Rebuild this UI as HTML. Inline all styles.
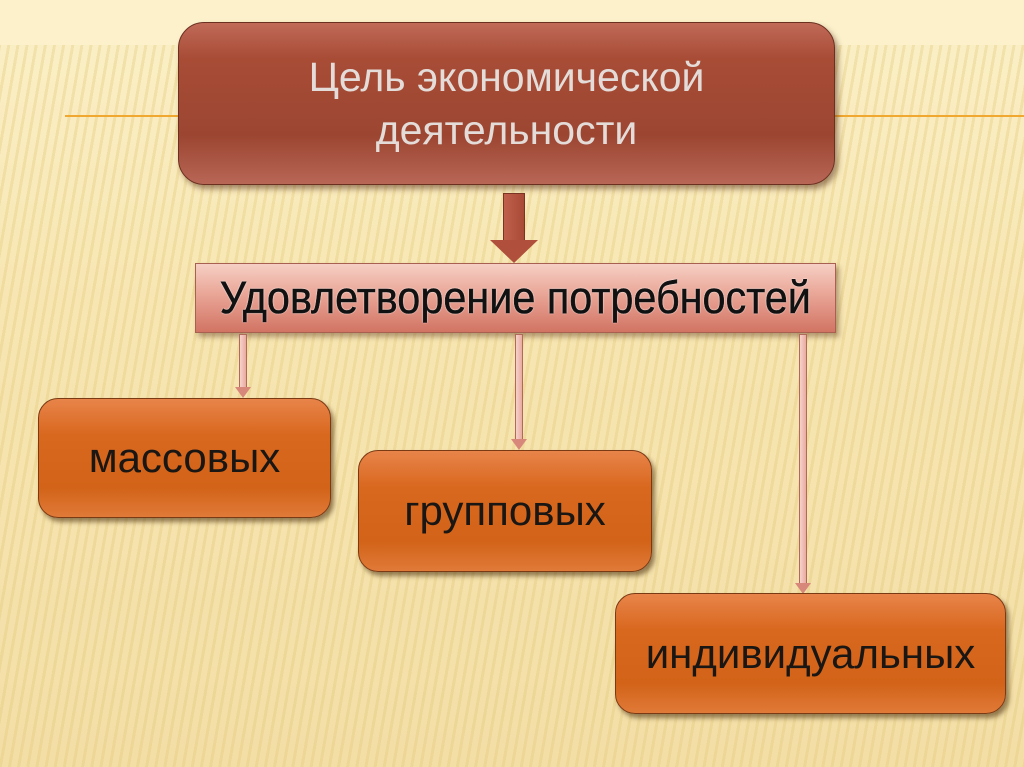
<!DOCTYPE html>
<html><head><meta charset="utf-8"><style>
html,body{margin:0;padding:0}
body{width:1024px;height:767px;position:relative;overflow:hidden;
background:repeating-linear-gradient(100deg,rgba(230,205,130,0.0) 0 6px,rgba(225,200,120,0.35) 6px 9px),linear-gradient(180deg,#fbf0c8 0,#f7e6b2 40%,#f3dea6 100%);
font-family:"Liberation Sans",sans-serif}
.top{position:absolute;left:0;top:0;width:1024px;height:45px;background:#fcf1cb}
.ol{position:absolute;height:2px;background:#f0a830;top:115px}
.b{position:absolute;box-sizing:border-box;display:flex;align-items:center;justify-content:center;text-align:center}
.t1{left:178px;top:22px;width:657px;height:163px;border-radius:26px;
background:linear-gradient(180deg,#c06a58 0,#a84c36 22%,#9c4632 70%,#b86656 100%);
border:1px solid #6b3020;box-shadow:3px 4px 6px rgba(80,40,20,0.5);
color:#e4dcd8;font-size:41px;line-height:53px}
.mid{left:195px;top:263px;width:641px;height:70px;
background:linear-gradient(180deg,#f6cfc4 0,#e9a596 45%,#d27464 100%);
border:1px solid #a86050;box-shadow:3px 4px 5px rgba(80,40,20,0.4);
color:#111;font-size:45px;text-shadow:0 0 2px #fff,0 0 1px #fff;white-space:nowrap;overflow:visible}
.mid span{display:inline-block;transform:scaleX(0.92);-webkit-text-stroke:0.5px #111;white-space:nowrap;flex:none}
.o{border-radius:20px;background:linear-gradient(180deg,#e8844a 0,#d9681f 30%,#d26318 75%,#e07a38 100%);
border:1px solid #7a3a14;box-shadow:3px 4px 5px rgba(70,40,10,0.55);color:#1a1614;font-size:42px}
.sh{position:absolute;width:6px;background:linear-gradient(90deg,#f6d2cc,#e9aaa0);border:1px solid #b06a5c}
.ah{position:absolute;width:0;height:0;border-left:8px solid transparent;border-right:8px solid transparent;border-top:11px solid #d8887a}
</style></head><body>
<div class="top"></div>
<div class="ol" style="left:65px;width:115px"></div>
<div class="ol" style="left:833px;width:191px"></div>

<div class="b t1">Цель экономической<br>деятельности</div>

<div style="position:absolute;left:503px;top:193px;width:22px;height:48px;background:linear-gradient(90deg,#c0604c,#a84a36);border:1px solid #7a3424;box-sizing:border-box"></div>
<div style="position:absolute;left:490px;top:240px;width:0;height:0;border-left:24px solid transparent;border-right:24px solid transparent;border-top:23px solid #b0503c"></div>

<div class="b mid"><span>Удовлетворение потребностей</span></div>

<div class="sh" style="left:239px;top:334px;height:54px"></div>
<div class="ah" style="left:235px;top:387px"></div>
<div class="sh" style="left:515px;top:334px;height:106px"></div>
<div class="ah" style="left:511px;top:439px"></div>
<div class="sh" style="left:799px;top:334px;height:250px"></div>
<div class="ah" style="left:795px;top:583px"></div>

<div class="b o" style="left:38px;top:398px;width:293px;height:120px">массовых</div>
<div class="b o" style="left:358px;top:450px;width:294px;height:122px">групповых</div>
<div class="b o" style="left:615px;top:593px;width:391px;height:121px">индивидуальных</div>
</body></html>
